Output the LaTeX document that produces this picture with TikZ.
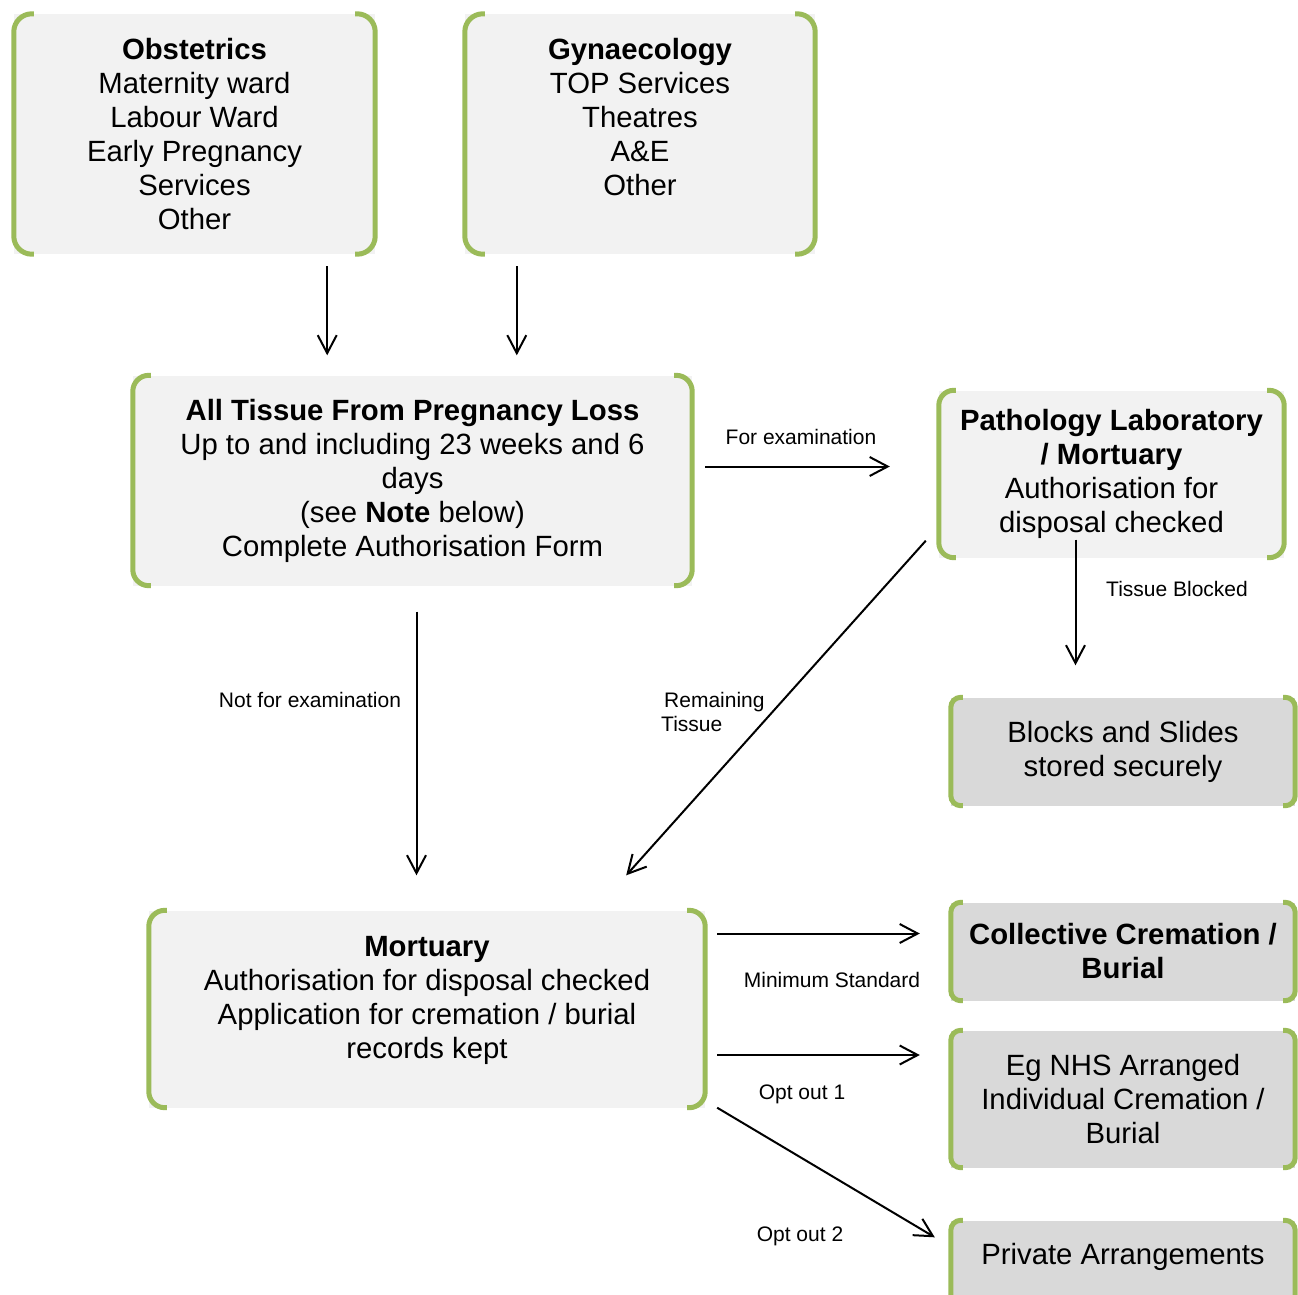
\documentclass[tikz,border=0pt]{standalone}
\usepackage{fontspec}
\setmainfont{Liberation Sans}
\usetikzlibrary{arrows.meta}

\definecolor{bracketgreen}{HTML}{9BBB59}
\definecolor{boxlight}{HTML}{F2F2F2}
\definecolor{boxdark}{HTML}{D9D9D9}

\tikzset{
  lightbox/.style={fill=boxlight, inner sep=0pt, align=center, font=\fontsize{29.3}{34}\selectfont},
  darkbox/.style={lightbox, fill=boxdark},
  bracket/.style={draw=bracketgreen, line width=5pt},
  arr/.style={-{Straight Barb[length=18pt,width=19pt]}, line width=2pt},
  lbl/.style={font=\fontsize{21}{24}\selectfont, inner sep=0pt},
}

% green brackets on both sides of a box: node name, corner radius
\newcommand{\boxbrackets}[2]{%
  \draw[bracket, rounded corners=#2] ([xshift=#2+2pt]#1.north west) -- (#1.north west) -- (#1.south west) -- ([xshift=#2+2pt]#1.south west);
  \draw[bracket, rounded corners=#2] ([xshift=-#2-2pt]#1.north east) -- (#1.north east) -- (#1.south east) -- ([xshift=-#2-2pt]#1.south east);
}

\begin{document}
\begin{tikzpicture}[x=1pt, y=-1pt]
  \useasboundingbox (0,0) rectangle (1298,1294);
  \clip (0,0) rectangle (1298,1294);

  % boxes
  \node[lightbox, minimum width=361pt, minimum height=240pt] (obst) at (194.5,134)
    {\textbf{Obstetrics}\\Maternity ward\\Labour Ward\\Early Pregnancy\\Services\\Other};
  \node[lightbox, minimum width=350pt, minimum height=240pt] (gyn) at (640,134)
    {\textbf{Gynaecology}\\TOP Services\\Theatres\\A\&E\\Other\\\mbox{}};
  \node[lightbox, minimum width=559pt, minimum height=210pt] (tissue) at (412.5,480.5)
    {\textbf{All Tissue From Pregnancy Loss}\\Up to and including 23 weeks and 6\\days\\(see \textbf{Note} below)\\Complete Authorisation Form};
  \node[lightbox, minimum width=345pt, minimum height=167pt] (path) at (1111.5,474)
    {\textbf{Pathology Laboratory}\\\textbf{/ Mortuary}\\Authorisation for\\disposal checked};
  \node[darkbox, minimum width=344pt, minimum height=108pt] (blocks) at (1123,751.5)
    {Blocks and Slides\\stored securely};
  \node[lightbox, minimum width=556pt, minimum height=197pt] (mort) at (427,1009)
    {\textbf{Mortuary}\\Authorisation for disposal checked\\Application for cremation / burial\\records kept\\[-10pt]\mbox{}};
  \node[darkbox, minimum width=344pt, minimum height=98pt] (coll) at (1123,951.5)
    {\textbf{Collective Cremation /}\\\textbf{Burial}};
  \node[darkbox, minimum width=344pt, minimum height=137pt] (nhs) at (1123,1099)
    {Eg NHS Arranged\\Individual Cremation /\\Burial};
  \node[darkbox, minimum width=344pt, minimum height=100pt] (priv) at (1123,1270.5)
    {Private Arrangements\\\mbox{}};

  \boxbrackets{obst}{18pt}
  \boxbrackets{gyn}{18pt}
  \boxbrackets{tissue}{16pt}
  \boxbrackets{path}{15pt}
  \boxbrackets{blocks}{10pt}
  \boxbrackets{mort}{16pt}
  \boxbrackets{coll}{10pt}
  \boxbrackets{nhs}{10pt}
  \boxbrackets{priv}{10pt}

  % arrows
  \coordinate (oa) at ([xshift=-48pt]obst.south east);
  \coordinate (ga) at ([xshift=52pt]gyn.south west);
  \coordinate (tp) at ([yshift=14pt]tissue.east);
  \coordinate (pb) at ([xshift=-36pt,yshift=18pt]path.south);
  \coordinate (tm) at ([xshift=4pt]tissue.south);
  \coordinate (mc) at ([yshift=18pt]coll.west);
  \coordinate (mn) at ([yshift=44pt]nhs.west);

  \draw[arr, shorten <=12pt, shorten >=20pt] (oa) -- (oa |- tissue.north);
  \draw[arr, shorten <=12pt, shorten >=20pt] (ga) -- (ga |- tissue.north);
  \draw[arr, shorten <=13pt, shorten >=49pt] (tp) -- (tp -| path.west);
  \draw[arr, shorten >=32pt] (pb) -- (pb |- blocks.north);
  \draw[arr, shorten <=26pt, shorten >=35pt] (tm) -- (tm |- mort.north);
  \draw[arr] ([xshift=-13pt,yshift=17pt]path.south west) -- ([xshift=-79pt,yshift=35pt]mort.north east);
  \draw[arr, shorten <=12pt, shorten >=31pt] (mc -| mort.east) -- (mc);
  \draw[arr, shorten <=12pt, shorten >=31pt] (mn -| mort.east) -- (mn);
  \draw[arr] ([xshift=12pt]mort.south east) -- ([xshift=-16pt,yshift=-17pt]priv.north west);

  % labels
  \node[lbl] (lfor) at (801,437) {For examination};
  \node[lbl] (lblock) at (1177,589) {Tissue Blocked};
  \node[lbl] (lnot) at (310,700) {Not for examination};
  \node[lbl, align=left, anchor=west] (lrem) at (661,712) {\hspace*{3pt}Remaining\\Tissue};
  \node[lbl] (lmin) at (832,980) {Minimum Standard};
  \node[lbl] (lopt1) at (802,1094) {Opt out 1};
  \node[lbl] (lopt2) at (800,1236) {Opt out 2};
\end{tikzpicture}
\end{document}
